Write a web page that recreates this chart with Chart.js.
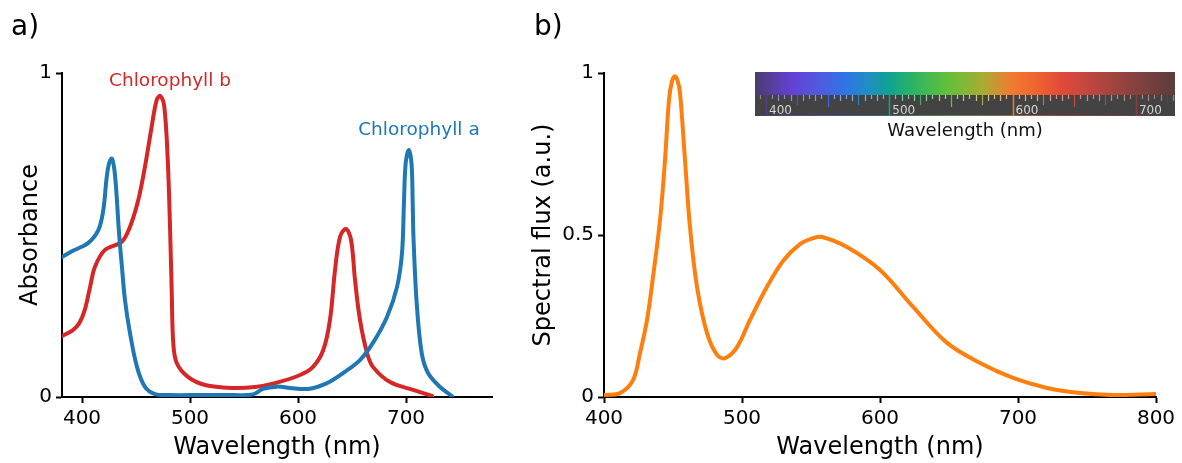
<!DOCTYPE html>
<html>
<head>
<meta charset="utf-8">
<script src="https://cdn.jsdelivr.net/npm/chart.js@4.4.1/dist/chart.umd.min.js"></script>
<style>
  html, body { margin: 0; padding: 0; background: #fff; }
  #wrap { position: relative; width: 1182px; height: 463px; overflow: hidden; }
  .panel { position: absolute; top: 0; }
</style>
</head>
<body>
<div id="wrap">
  <div class="panel" style="left:0;width:520px;height:463px"><canvas id="absorb" width="520" height="463"></canvas></div>
  <div class="panel" style="left:520px;width:662px;height:463px"><canvas id="flux" width="662" height="463"></canvas></div>
</div>
<script>
// Panel a: absorbance spectra of chlorophyll a and b
const chlAWavelength = [381.5, 392, 405.6, 415.1, 419.7, 422.9, 425.0, 427.5, 429.6, 431.5, 434.3, 437.0, 439.8, 444.4, 450.9, 458.3, 467.6, 480, 510, 540, 558.3, 567.6, 580.6, 592.6, 609.3, 626.9, 641.7, 657.4, 669.4, 682.4, 691.7, 696.3, 698.1, 699.7, 702.5, 705.1, 706.2, 706.9, 709.9, 714.5, 720.4, 731.5, 742.6];
const chlAAbsorbance = [0.432, 0.452, 0.475, 0.515, 0.577, 0.679, 0.720, 0.736, 0.710, 0.648, 0.506, 0.401, 0.299, 0.198, 0.093, 0.031, 0.009, 0.006, 0.006, 0.006, 0.008, 0.025, 0.032, 0.028, 0.025, 0.043, 0.074, 0.114, 0.167, 0.247, 0.340, 0.444, 0.599, 0.722, 0.762, 0.720, 0.600, 0.494, 0.290, 0.136, 0.074, 0.031, 0.003];

const chlBWavelength = [381.5, 391, 397.5, 402.5, 407.5, 412.0, 421.3, 436.8, 444.4, 452.1, 458.3, 464.5, 469.2, 472.5, 476.2, 479.4, 481.5, 483.1, 484.5, 487.7, 498.1, 513.9, 538.9, 560.2, 578.7, 601.9, 613.9, 623.4, 629.6, 634.3, 638.9, 644.4, 649.1, 652.8, 657.4, 663.9, 669.4, 685.2, 706.5, 724.1];
const chlBAbsorbance = [0.188, 0.205, 0.228, 0.268, 0.340, 0.402, 0.454, 0.479, 0.525, 0.608, 0.711, 0.834, 0.917, 0.929, 0.896, 0.731, 0.525, 0.321, 0.167, 0.105, 0.062, 0.037, 0.028, 0.031, 0.043, 0.068, 0.093, 0.145, 0.238, 0.392, 0.494, 0.519, 0.485, 0.361, 0.238, 0.136, 0.093, 0.046, 0.022, 0.003];

const absorbWavelengthTicks = [400, 500, 600, 700];
const absorbanceTicks = [0, 1];

// Panel b: emission spectrum of a white LED
const ledWavelength = [400, 411.6, 421, 426.1, 431.2, 435.5, 440.6, 444.2, 447.1, 449.3, 451.4, 453.4, 455.1, 458.7, 462.3, 467.4, 474.6, 481.9, 487.7, 496.4, 505.8, 518.1, 529.7, 542, 551.4, 558, 576, 600, 624, 648.6, 672.5, 696.4, 721, 745, 769, 799.5];
const ledFlux = [0.006, 0.012, 0.052, 0.136, 0.238, 0.370, 0.546, 0.731, 0.917, 0.975, 0.990, 0.975, 0.938, 0.731, 0.525, 0.340, 0.198, 0.130, 0.120, 0.154, 0.238, 0.340, 0.420, 0.472, 0.490, 0.494, 0.463, 0.392, 0.278, 0.167, 0.105, 0.059, 0.028, 0.012, 0.006, 0.009];

const fluxWavelengthTicks = [400, 500, 600, 700, 800];
const fluxTicks = [0, 0.5, 1];

const FONT = "'DejaVu Sans', Verdana, sans-serif";

function points(xs, ys) { return xs.map((x, i) => ({ x, y: ys[i] })); }

function lineSet(label, xs, ys, color) {
  return {
    label, data: points(xs, ys),
    borderColor: color, borderWidth: 4, pointRadius: 0,
    tension: 0.35, fill: false,
    borderJoinStyle: 'round', borderCapStyle: 'round'
  };
}

function axisCommon() {
  return {
    border: { display: true, color: '#000', width: 2 },
    grid: { display: true, drawOnChartArea: false, drawTicks: true, tickLength: 6, tickColor: '#000', tickWidth: 2 }
  };
}

function xAxis(min, max, tickValues) {
  return Object.assign(axisCommon(), {
    type: 'linear', min, max,
    afterBuildTicks: s => { s.ticks = tickValues.map(v => ({ value: v })); },
    afterFit: s => { s.height = 66; },
    ticks: { color: '#000', font: { family: FONT, size: 20 }, padding: 4, maxRotation: 0, autoSkip: false, callback: v => String(v) },
    title: { display: true, text: 'Wavelength (nm)', color: '#000', font: { family: FONT, size: 24 }, padding: { top: 0, bottom: 1 } }
  });
}

function yAxis(tickValues, width, title, titlePad) {
  return Object.assign(axisCommon(), {
    type: 'linear', min: 0, max: 1,
    afterBuildTicks: s => { s.ticks = tickValues.map(v => ({ value: v })); },
    afterFit: s => { s.width = width; },
    ticks: { color: '#000', font: { family: FONT, size: 20 }, padding: 4, autoSkip: false, callback: v => String(v) },
    title: { display: true, text: title, color: '#000', font: { family: FONT, size: 24 }, padding: { top: titlePad, bottom: 0 } }
  });
}

// Panel letter and in-plot series labels
const annotate = {
  id: 'annotate',
  afterDraw(chart, args, opts) {
    const ctx = chart.ctx;
    ctx.save();
    ctx.fillStyle = '#000';
    ctx.font = `28px ${FONT}`;
    ctx.textAlign = 'left';
    ctx.textBaseline = 'alphabetic';
    ctx.fillText(opts.tag, opts.tagX, opts.tagY);
    (opts.notes || []).forEach(n => {
      ctx.font = `18.5px ${FONT}`;
      ctx.fillStyle = n.color;
      ctx.textAlign = 'center';
      ctx.fillText(n.text, chart.scales.x.getPixelForValue(n.x), chart.scales.y.getPixelForValue(n.y));
    });
    ctx.restore();
  }
};

// Visible-spectrum ruler drawn as an inset in panel b
const spectrumInset = {
  id: 'spectrumInset',
  afterDraw(chart, args, o) {
    if (!o.show) return;
    const ctx = chart.ctx;
    const L = o.left, R = o.right, T = o.top, M = o.mid, B = o.bottom;
    const nmX = nm => o.x400 + (nm - 400) * o.pxPerNm;
    const grad = ctx.createLinearGradient(L, 0, R, 0);
    o.stops.forEach(([nm, c]) => grad.addColorStop(Math.min(1, Math.max(0, (nmX(nm) - L) / (R - L))), c));
    ctx.save();
    ctx.fillStyle = grad;
    ctx.fillRect(L, T, R - L, M - T);
    ctx.fillStyle = '#434343';
    ctx.fillRect(L, M, R - L, B - M);
    // tick marks hanging from the colour band
    for (let nm = 395; nm <= 730; nm += 5) {
      const major = nm % 100 === 0;
      const len = major ? (B - M) : nm % 50 === 0 ? 12 : nm % 25 === 0 ? 10 : nm % 10 === 0 ? 6 : 4;
      const x = Math.round(nmX(nm)) + 0.5;
      ctx.lineWidth = major ? 1.5 : 1.2;
      ctx.globalAlpha = 1;
      ctx.strokeStyle = grad;
      ctx.beginPath(); ctx.moveTo(x, M); ctx.lineTo(x, M + len); ctx.stroke();
      if (!major && nm % 25 !== 0) {
        ctx.globalAlpha = 0.35;
        ctx.strokeStyle = '#ffffff';
        ctx.beginPath(); ctx.moveTo(x, M); ctx.lineTo(x, M + len); ctx.stroke();
      }
    }
    ctx.globalAlpha = 0.5;
    ctx.strokeStyle = grad;
    ctx.lineWidth = 1;
    ctx.beginPath(); ctx.moveTo(L, B - 0.5); ctx.lineTo(R, B - 0.5); ctx.stroke();
    ctx.globalAlpha = 1;
    ctx.fillStyle = '#d4d4d4';
    ctx.font = `12px ${FONT}`;
    ctx.textAlign = 'left';
    ctx.textBaseline = 'alphabetic';
    [400, 500, 600, 700].forEach(nm => ctx.fillText(String(nm), nmX(nm) + 3, B - 2));
    ctx.fillStyle = '#111';
    ctx.font = `18px ${FONT}`;
    ctx.textAlign = 'center';
    ctx.fillText('Wavelength (nm)', (L + R) / 2, 136);
    ctx.restore();
  }
};

Chart.register(annotate, spectrumInset);

new Chart(document.getElementById('absorb'), {
  type: 'line',
  data: {
    datasets: [
      lineSet('Chlorophyll a', chlAWavelength, chlAAbsorbance, '#1f77b4'),
      lineSet('Chlorophyll b', chlBWavelength, chlBAbsorbance, '#d62728')
    ]
  },
  options: {
    responsive: false, animation: false, events: [],
    layout: { padding: { top: 73, right: 28, left: 0, bottom: 0 } },
    scales: {
      x: xAxis(381.48, 779.63, absorbWavelengthTicks),
      y: yAxis(absorbanceTicks, 62, 'Absorbance', 16)
    },
    plugins: {
      legend: { display: false }, tooltip: { enabled: false },
      annotate: {
        tag: 'a)', tagX: 11, tagY: 35,
        notes: [
          { text: 'Chlorophyll b', x: 481.5, y: 0.961, color: '#d62728' },
          { text: 'Chlorophyll a', x: 712.0, y: 0.809, color: '#1f77b4' }
        ]
      },
      spectrumInset: { show: false }
    }
  }
});

new Chart(document.getElementById('flux'), {
  type: 'line',
  data: {
    datasets: [ lineSet('White LED', ledWavelength, ledFlux, '#ff7f0e') ]
  },
  options: {
    responsive: false, animation: false, events: [],
    layout: { padding: { top: 73, right: 26, left: 0, bottom: 0 } },
    scales: {
      x: xAxis(400, 800, fluxWavelengthTicks),
      y: yAxis(fluxTicks, 84, 'Spectral flux (a.u.)', 9)
    },
    plugins: {
      legend: { display: false }, tooltip: { enabled: false },
      annotate: { tag: 'b)', tagX: 14, tagY: 35, notes: [] },
      spectrumInset: {
        show: true, left: 235, right: 655, top: 72, mid: 95, bottom: 116,
        x400: 246, pxPerNm: 1.233,
        stops: [[391, '#4a3c6c'], [420, '#6540d2'], [445, '#4f5ce0'], [465, '#2d76e4'], [485, '#1f90c0'], [500, '#0fa391'], [520, '#2fb462'], [548, '#62c03a'], [575, '#a6ad33'], [598, '#ef7d32'], [618, '#f0652f'], [640, '#e04a3a'], [665, '#bc4640'], [695, '#8c423f'], [732, '#5a3d3c']]
      }
    }
  }
});
</script>
</body>
</html>
